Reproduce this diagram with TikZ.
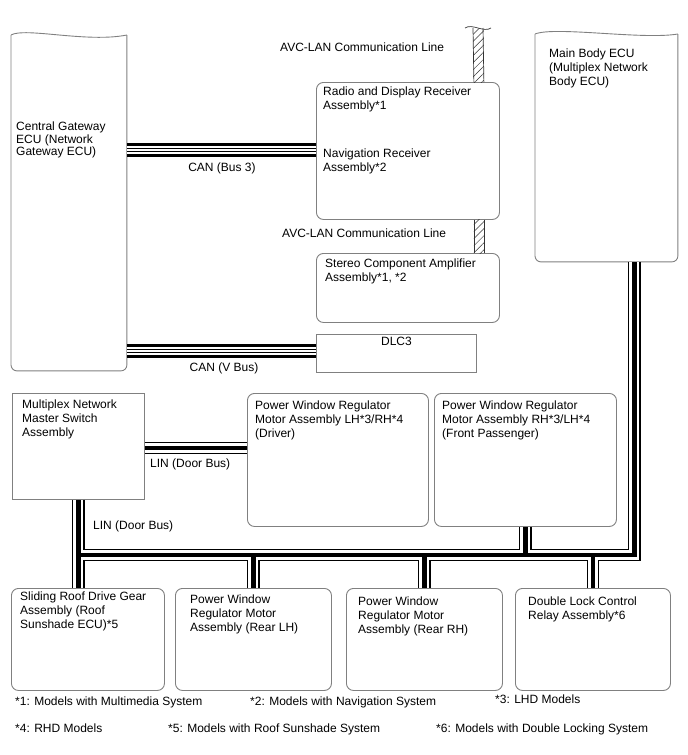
\documentclass[tikz,border=0pt]{standalone}
\usepackage{fontspec}
\setmainfont{Liberation Sans}
\usetikzlibrary{positioning, patterns.meta}

\tikzset{
  box/.style={draw=black!50, line width=0.9pt, rounded corners=7pt, anchor=north west, inner sep=0pt},
  sqbox/.style={box, sharp corners},
  outline/.style={draw=black!50, line width=0.9pt},
  txt/.style={align=left, inner sep=0pt},
  busA/.style={line width=12.5pt, black},
  busB/.style={line width=10pt, white},
  busC/.style={line width=4.5pt, black},
  canA/.style={line width=13.5pt, black},
  canB/.style={line width=7.5pt, white},
  canC/.style={line width=4pt, black},
  canD/.style={line width=1.5pt, white},
  avc/.style={pattern={Lines[angle=45, distance=5pt, line width=0.5pt]}, pattern color=black!80},
  avcedge/.style={line width=0.7pt, black!80}
}

\begin{document}
\begin{tikzpicture}[x=1pt, y=-1pt, every node/.style={font=\fontsize{12pt}{14pt}\selectfont}]
\useasboundingbox (0,0) rectangle (688,755);

% Tall ECUs with a broken top edge
\node[box, draw=none, minimum width=115pt, minimum height=335pt] (gw) at (11,35) {};
\draw[outline] (gw.north west) .. controls +(14,-8) and +(-40,8) .. (gw.north east);
\draw[outline, rounded corners=6pt] (gw.north east) -- (gw.south east) -- (gw.south west) -- (gw.north west);
\node[txt, below right=87pt and 5pt of gw.north west, font=\fontsize{12pt}{12.5pt}\selectfont] (gwtext) {Central Gateway\\ECU (Network\\Gateway ECU)};

\node[box, draw=none, minimum width=142pt, minimum height=227pt] (mainbody) at (535,34) {};
\draw[outline] (mainbody.north west) .. controls +(20,-8) and +(-35,6) .. (mainbody.north east);
\draw[outline, rounded corners=6pt] (mainbody.north east) -- (mainbody.south east) -- (mainbody.south west) -- (mainbody.north west);
\node[txt, below right=15pt and 14pt of mainbody.north west] (mbtext) {Main Body ECU\\(Multiplex Network\\Body ECU)};

% Audio / navigation side
\node[box, minimum width=183pt, minimum height=137pt] (radio) at (316,82) {};
\node[txt, below right=4.5pt and 7pt of radio.north west] (radiotext) {Radio and Display Receiver\\Assembly*1};
\node[txt, below right=67pt and 7pt of radio.north west] (navtext) {Navigation Receiver\\Assembly*2};

\node[box, minimum width=183pt, minimum height=69pt] (stereo) at (316,253) {};
\node[txt, below right=6pt and 9pt of stereo.north west] (stereotext) {Stereo Component Amplifier\\Assembly*1, *2};

\node[sqbox, minimum width=160pt, minimum height=38pt] (dlc) at (316,334) {};
\node[txt, below=3pt of dlc.north] (dlctext) {DLC3};

% Door side
\node[sqbox, minimum width=132pt, minimum height=106pt] (master) at (12,393) {};
\node[txt, below right=6.5pt and 10pt of master.north west] (mastertext) {Multiplex Network\\Master Switch\\Assembly};

\node[box, minimum width=181pt, minimum height=133pt] (pwlh) at (247,393) {};
\node[txt, below right=7.5pt and 8pt of pwlh.north west] (pwlhtext) {Power Window Regulator\\Motor Assembly LH*3/RH*4\\(Driver)};

\node[box, minimum width=182pt, minimum height=133pt] (pwrh) at (434,393) {};
\node[txt, below right=7.5pt and 8pt of pwrh.north west] (pwrhtext) {Power Window Regulator\\Motor Assembly RH*3/LH*4\\(Front Passenger)};

% Bottom row
\node[box, minimum width=153pt, minimum height=102pt] (roof) at (11,588) {};
\node[txt, below right=3.5pt and 9pt of roof.north west] (rooftext) {Sliding Roof Drive Gear\\Assembly (Roof\\Sunshade ECU)*5};

\node[box, minimum width=156pt, minimum height=102pt] (rearlh) at (175,588) {};
\node[txt, below right=7pt and 15pt of rearlh.north west] (rearlhtext) {Power Window\\Regulator Motor\\Assembly (Rear LH)};

\node[box, minimum width=156pt, minimum height=102pt] (rearrh) at (346,588) {};
\node[txt, below right=8.5pt and 12pt of rearrh.north west] (rearrhtext) {Power Window\\Regulator Motor\\Assembly (Rear RH)};

\node[box, minimum width=155pt, minimum height=102pt] (dlock) at (515,588) {};
\node[txt, below right=8.5pt and 13pt of dlock.north west] (dlocktext) {Double Lock Control\\Relay Assembly*6};

% Levels of the lines
\coordinate (can3) at (0,150);
\coordinate (canv) at (0,351);
\coordinate (linA) at (0,448);
\coordinate (busy) at (0,555);
\coordinate (mbdrop) at ([xshift=28pt]mainbody.south);
\coordinate (avctop) at (478,28);

% CAN lines
\foreach \lay in {canA, canB, canC, canD}{
  \draw[\lay] (gw.east |- can3) -- (radio.west |- can3);
  \draw[\lay] (gw.east |- canv) -- (dlc.west |- canv);
}
\node[txt, anchor=north] (can3lbl) at (222,163) {CAN (Bus 3)};
\node[txt, anchor=north] (canvlbl) at (224,363) {CAN (V Bus)};

% LIN door bus
\foreach \lay in {busA, busB, busC}{
  \draw[\lay] (master.south) -- (master.south |- roof.north);
  \draw[\lay] (master.south |- busy) -- (mbdrop |- busy) -- (mbdrop);
  \draw[\lay] (pwrh.south) -- (pwrh.south |- busy);
  \draw[\lay] (rearlh.north |- busy) -- (rearlh.north);
  \draw[\lay] (rearrh.north |- busy) -- (rearrh.north);
  \draw[\lay] (dlock.north |- busy) -- (dlock.north);
  \draw[\lay] (master.east |- linA) -- (pwlh.west |- linA);
}
\node[txt, anchor=north west] (linlbl1) at (150,459) {LIN (Door Bus)};
\node[txt, anchor=north west] (linlbl2) at (93,521) {LIN (Door Bus)};

% AVC-LAN
\fill[avc] ([xshift=-5pt]avctop) rectangle ([xshift=-16pt]radio.north east);
\draw[avcedge] ([xshift=-5pt]avctop) -- ([xshift=-26pt]radio.north east);
\draw[avcedge] ([xshift=5pt]avctop) -- ([xshift=-16pt]radio.north east);
\draw[avcedge] ([xshift=-13pt]avctop) .. controls +(7,-5) and +(-7,5) .. ([xshift=13pt]avctop);
\fill[avc] ([xshift=-26pt]radio.south east) rectangle ([xshift=-16pt]stereo.north east);
\draw[avcedge] ([xshift=-26pt]radio.south east) -- ([xshift=-26pt]stereo.north east);
\draw[avcedge] ([xshift=-16pt]radio.south east) -- ([xshift=-16pt]stereo.north east);
\node[txt, anchor=north west] (avclbl1) at (280,43) {AVC-LAN Communication Line};
\node[txt, anchor=north west] (avclbl2) at (282,229) {AVC-LAN Communication Line};

% Notes
\node[txt, anchor=north west] (note1) at (15,697) {*1: Models with Multimedia System};
\node[txt, anchor=north west] (note2) at (250,697) {*2: Models with Navigation System};
\node[txt, anchor=north west] (note3) at (495,695) {*3: LHD Models};
\node[txt, anchor=north west] (note4) at (15,724) {*4: RHD Models};
\node[txt, anchor=north west] (note5) at (168,724) {*5: Models with Roof Sunshade System};
\node[txt, anchor=north west] (note6) at (436,724) {*6: Models with Double Locking System};

\end{tikzpicture}
\end{document}
